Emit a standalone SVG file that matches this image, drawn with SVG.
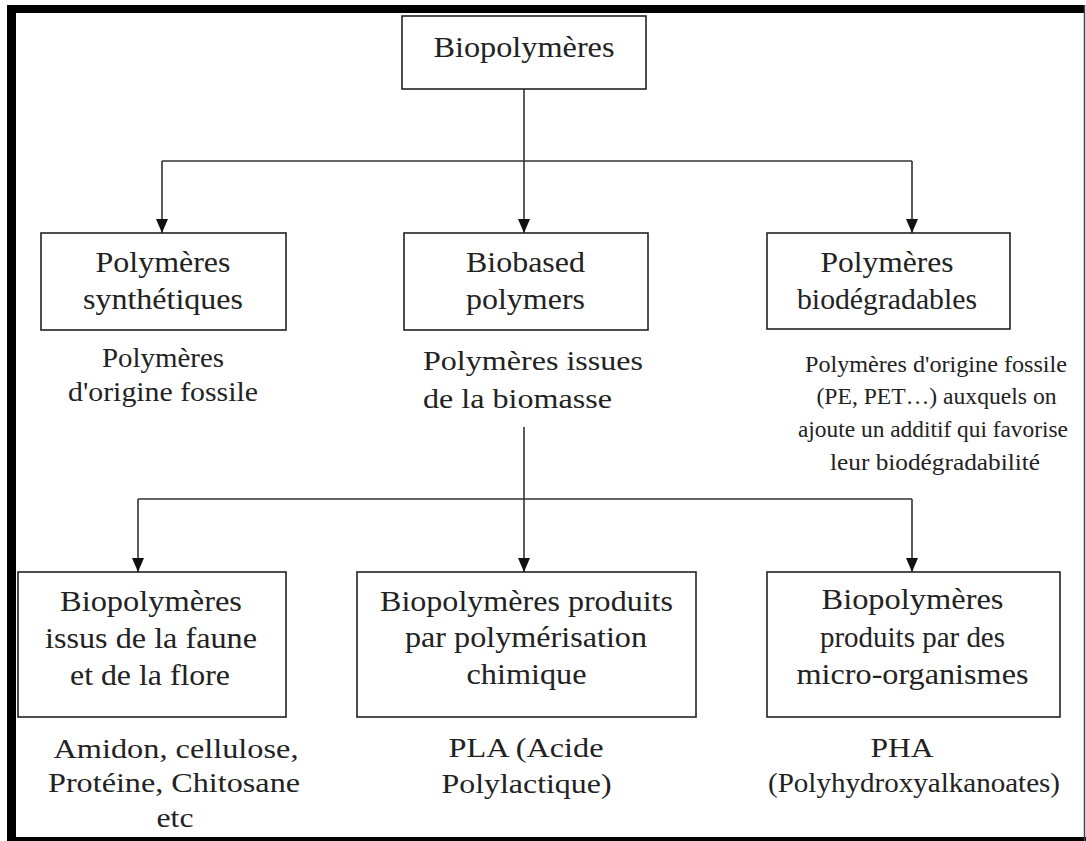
<svg xmlns="http://www.w3.org/2000/svg" width="1086" height="841" viewBox="0 0 1086 841">
<style>
.box{fill:#fff;stroke:#222;stroke-width:1.6}
.t{font-family:"Liberation Serif","Times New Roman",serif;font-size:30px;fill:#222;text-anchor:middle}
.s{font-family:"Liberation Serif","Times New Roman",serif;font-size:27px;fill:#222;text-anchor:middle}
.n{font-family:"Liberation Serif","Times New Roman",serif;font-size:24px;fill:#222;text-anchor:middle}
.c{fill:none;stroke:#333;stroke-width:1.6}
</style>
<defs>
<marker id="ah" markerUnits="userSpaceOnUse" markerWidth="14" markerHeight="12" refX="14" refY="6" orient="auto">
<path d="M0,0 L14,6 L0,12 z" fill="#111"/>
</marker>
</defs>
<rect width="1086" height="841" fill="#fff"/>
<g id="frame">
<rect x="7" y="5" width="1077" height="8" fill="#000"/>
<rect x="7" y="5" width="9" height="836" fill="#000"/>
<rect x="7" y="837" width="1079" height="4" fill="#000"/>
<line x1="1084.5" y1="5" x2="1084.5" y2="841" stroke="#444" stroke-width="1.5"/>
</g>
<g id="connectors">
<line class="c" x1="524" y1="89" x2="524" y2="233" marker-end="url(#ah)"/>
<line class="c" x1="162" y1="161" x2="912" y2="161"/>
<line class="c" x1="162" y1="161" x2="162" y2="233" marker-end="url(#ah)"/>
<line class="c" x1="912" y1="161" x2="912" y2="233" marker-end="url(#ah)"/>
<line class="c" x1="524" y1="427" x2="524" y2="572" marker-end="url(#ah)"/>
<line class="c" x1="138" y1="499" x2="912" y2="499"/>
<line class="c" x1="138" y1="499" x2="138" y2="572" marker-end="url(#ah)"/>
<line class="c" x1="912" y1="499" x2="912" y2="572" marker-end="url(#ah)"/>
</g>
<g id="n-root">
<rect class="box" x="402" y="16" width="244" height="73"/>
<text class="t" x="524" y="57" textLength="181" lengthAdjust="spacingAndGlyphs">Biopolymères</text>
</g>
<g id="n-synth">
<rect class="box" x="41" y="233" width="245" height="97"/>
<text class="t" x="163" y="272" textLength="135" lengthAdjust="spacingAndGlyphs">Polymères</text>
<text class="t" x="163" y="309" textLength="160" lengthAdjust="spacingAndGlyphs">synthétiques</text>
<text class="s" x="163" y="367" textLength="122" lengthAdjust="spacingAndGlyphs">Polymères</text>
<text class="s" x="163" y="401" textLength="190" lengthAdjust="spacingAndGlyphs">d'origine fossile</text>
</g>
<g id="n-biobased">
<rect class="box" x="404" y="233" width="244" height="97"/>
<text class="t" x="525.5" y="272" textLength="119" lengthAdjust="spacingAndGlyphs">Biobased</text>
<text class="t" x="525.5" y="309" textLength="119" lengthAdjust="spacingAndGlyphs">polymers</text>
<text class="s" x="423" y="370" style="text-anchor:start" textLength="220" lengthAdjust="spacingAndGlyphs">Polymères issues</text>
<text class="s" x="423" y="407.5" style="text-anchor:start" textLength="189" lengthAdjust="spacingAndGlyphs">de la biomasse</text>
</g>
<g id="n-biodeg">
<rect class="box" x="767" y="233" width="243" height="96"/>
<text class="t" x="887" y="272" textLength="133" lengthAdjust="spacingAndGlyphs">Polymères</text>
<text class="t" x="887" y="309" textLength="180" lengthAdjust="spacingAndGlyphs">biodégradables</text>
<text class="n" x="936" y="371.5" textLength="262" lengthAdjust="spacingAndGlyphs">Polymères d'origine fossile</text>
<text class="n" x="936.5" y="404" textLength="240" lengthAdjust="spacingAndGlyphs">(PE, PET…) auxquels on</text>
<text class="n" x="933" y="437" textLength="270" lengthAdjust="spacingAndGlyphs">ajoute un additif qui favorise</text>
<text class="n" x="935" y="470" textLength="210" lengthAdjust="spacingAndGlyphs">leur biodégradabilité</text>
</g>
<g id="n-faune">
<rect class="box" x="18" y="572" width="268" height="145"/>
<text class="t" x="151" y="610.5" textLength="182" lengthAdjust="spacingAndGlyphs">Biopolymères</text>
<text class="t" x="151" y="648" textLength="212" lengthAdjust="spacingAndGlyphs">issus de la faune</text>
<text class="t" x="150" y="685" textLength="160" lengthAdjust="spacingAndGlyphs">et de la flore</text>
<text class="s" x="176" y="758" textLength="245" lengthAdjust="spacingAndGlyphs">Amidon, cellulose,</text>
<text class="s" x="174" y="791.5" textLength="252" lengthAdjust="spacingAndGlyphs">Protéine, Chitosane</text>
<text class="s" x="175" y="826.5" textLength="37" lengthAdjust="spacingAndGlyphs">etc</text>
</g>
<g id="n-chim">
<rect class="box" x="357" y="572" width="339" height="145"/>
<text class="t" x="526.5" y="610.5" textLength="293" lengthAdjust="spacingAndGlyphs">Biopolymères produits</text>
<text class="t" x="526" y="646.5" textLength="242" lengthAdjust="spacingAndGlyphs">par polymérisation</text>
<text class="t" x="526.5" y="684" textLength="120" lengthAdjust="spacingAndGlyphs">chimique</text>
<text class="s" x="526" y="756.5" textLength="155" lengthAdjust="spacingAndGlyphs">PLA (Acide</text>
<text class="s" x="526.5" y="793" textLength="170" lengthAdjust="spacingAndGlyphs">Polylactique)</text>
</g>
<g id="n-micro">
<rect class="box" x="767" y="572" width="293" height="145"/>
<text class="t" x="912.5" y="609" textLength="182" lengthAdjust="spacingAndGlyphs">Biopolymères</text>
<text class="t" x="912.5" y="646.5" textLength="185" lengthAdjust="spacingAndGlyphs">produits par des</text>
<text class="t" x="912.5" y="684" textLength="232" lengthAdjust="spacingAndGlyphs">micro-organismes</text>
<text class="s" x="902" y="756.5" textLength="63" lengthAdjust="spacingAndGlyphs">PHA</text>
<text class="s" x="914" y="791.5" textLength="292" lengthAdjust="spacingAndGlyphs">(Polyhydroxyalkanoates)</text>
</g>
</svg>
